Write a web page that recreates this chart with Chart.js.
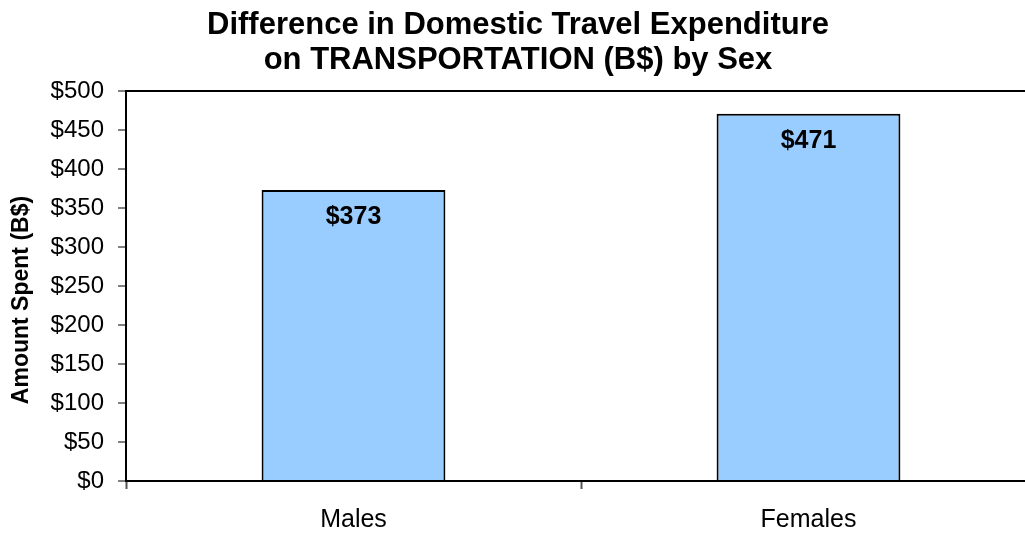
<!DOCTYPE html>
<html>
<head>
<meta charset="utf-8">
<script src="https://cdn.jsdelivr.net/npm/chart.js@4"></script>
<style>
    html, body { margin: 0; padding: 0; background: #fff; overflow: hidden; }
    #wrap { width: 1036px; height: 534px; }
</style>
</head>
<body>
<div id="wrap"><canvas id="chart"></canvas></div>
<script>
const categories = ['Males', 'Females'];
const amounts = [373, 471];
const titleLines = ['Difference in Domestic Travel Expenditure', 'on TRANSPORTATION (B$) by Sex'];
const yAxisTitle = 'Amount Spent (B$)';

const FONT = 'Arial, "Liberation Sans", sans-serif';

// writes the value inside the top of each bar, plus the y axis title
// (drawn by hand because it sits a little below the middle of the axis)
const barLabels = {
    id: 'barLabels',
    afterDatasetsDraw(chart) {
        const ctx = chart.ctx;
        const meta = chart.getDatasetMeta(0);
        ctx.save();
        ctx.font = 'bold 25px ' + FONT;
        ctx.fillStyle = '#000';
        ctx.textAlign = 'center';
        ctx.textBaseline = 'middle';
        meta.data.forEach((bar, i) => {
            ctx.fillText('$' + amounts[i], bar.x, bar.y + 27);
        });

        const area = chart.chartArea;
        ctx.translate(22, (area.top + area.bottom) / 2 + 14);
        ctx.rotate(-Math.PI / 2);
        ctx.font = 'bold 23px ' + FONT;
        ctx.fillText(yAxisTitle, 0, 0);
        ctx.restore();
    }
};

new Chart(document.getElementById('chart'), {
    type: 'bar',
    data: {
        labels: categories,
        datasets: [{
            data: amounts,
            backgroundColor: '#99CCFF',
            borderColor: '#000',
            borderWidth: 2,
            borderSkipped: 'bottom',
            categoryPercentage: 1,
            barPercentage: 0.404
        }]
    },
    options: {
        responsive: true,
        maintainAspectRatio: false,
        animation: false,
        layout: { padding: 0 },
        plugins: {
            legend: { display: false },
            tooltip: { enabled: false },
            title: {
                display: true,
                text: titleLines,
                color: '#000',
                font: { family: FONT, size: 31, weight: 'bold', lineHeight: 1.13 },
                padding: { top: 8, bottom: 13 }
            }
        },
        scales: {
            x: {
                offset: true,
                grid: {
                    offset: true,
                    color: 'transparent',
                    tickColor: '#555',
                    tickLength: 8,
                    tickWidth: 2
                },
                border: { display: true, color: '#000', width: 2 },
                ticks: {
                    color: '#000',
                    padding: 16,
                    font: { family: FONT, size: 25 }
                },
                afterFit(scale) { scale.height = 53; }
            },
            y: {
                min: 0,
                max: 500,
                ticks: {
                    stepSize: 50,
                    color: '#000',
                    padding: 14,
                    font: { family: FONT, size: 24 },
                    callback: v => '$' + v
                },
                grid: {
                    color: ctx => ctx.tick && ctx.tick.value === 500 ? '#000' : 'transparent',
                    lineWidth: 2,
                    tickColor: '#000',
                    tickLength: 8,
                    tickWidth: 1
                },
                border: { display: true, color: '#000', width: 2 },
                afterFit(scale) { scale.width = 126; }
            }
        }
    },
    plugins: [barLabels]
});
</script>
</body>
</html>
